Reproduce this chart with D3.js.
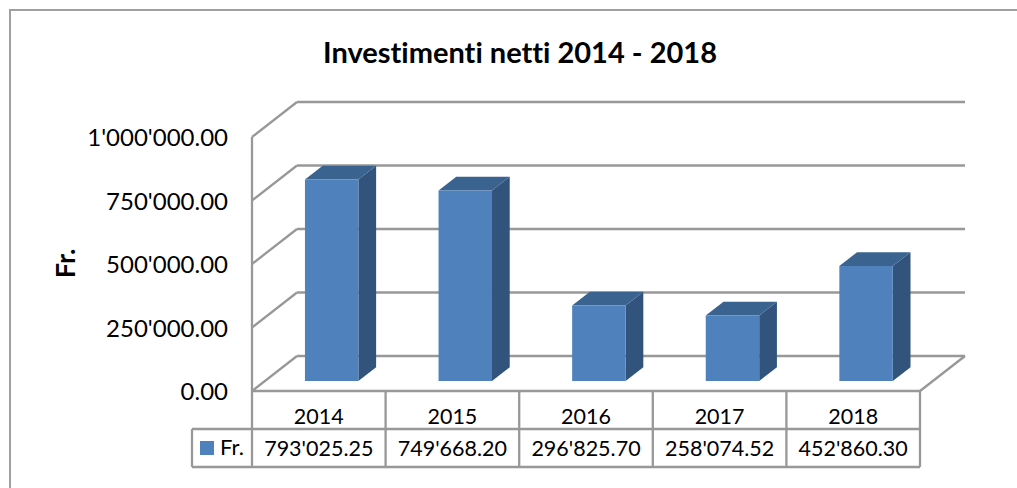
<!DOCTYPE html>
<html>
<head>
<meta charset="utf-8">
<script src="https://cdnjs.cloudflare.com/ajax/libs/d3/7.8.5/d3.min.js"></script>
<style>
    html, body { margin: 0; padding: 0; background: #fff; }
    svg { display: block; }
    text { font-family: Lato, "Noto Sans", sans-serif; fill: #000; font-variant-ligatures: none; }
</style>
</head>
<body>
<div id="chart"></div>
<script>
// Data
var years = ["2014", "2015", "2016", "2017", "2018"];
var values = [793025.25, 749668.20, 296825.70, 258074.52, 452860.30];
var yTicks = [0, 250000, 500000, 750000, 1000000];
var seriesName = "Fr.";
var chartTitle = "Investimenti netti 2014 - 2018";

var width = 1017, height = 488;
var lineColor = "#989898";

// plot box (front plane) and how far the 3D depth shifts things
var plot = {left: 252, right: 920, top: 137, bottom: 391};
var depth = {dx: 45, dy: -35};
var barDepth = {front: 0.286, back: 0.68};
var table = {left: 192, row1: 429, row2: 467};

var svg = d3.select("#chart")
    .append("svg")
    .attr("width", width)
    .attr("height", height);

var x = d3.scaleBand()
    .domain(years)
    .range([plot.left, plot.right])
    .paddingInner(0.6)
    .paddingOuter(0.3);

var y = d3.scaleLinear()
    .domain([0, 1000000])
    .range([plot.bottom, plot.top]);

var locale = d3.formatLocale({decimal: ".", thousands: "'", grouping: [3], currency: ["", ""]});
var fmt = locale.format(",.2f");

// Point in the 3D box: px on the front plane, value, depth 0..1
function pt(px, v, d) {
    return [px + depth.dx * d, y(v) + depth.dy * d];
}

function poly(points) {
    return "M" + points.join("L") + "Z";
}

function line(g, a, b) {
    g.append("line")
        .attr("x1", a[0]).attr("y1", a[1])
        .attr("x2", b[0]).attr("y2", b[1]);
}

// Chart frame
svg.append("path")
    .attr("d", "M10," + height + "V10H" + width)
    .attr("fill", "none")
    .attr("stroke", "#a0a0a0")
    .attr("stroke-width", 2);

// Title
svg.append("text")
    .attr("x", 520)
    .attr("y", 63)
    .attr("text-anchor", "middle")
    .attr("font-size", 29)
    .attr("font-weight", "bold")
    .text(chartTitle);

// Walls and gridlines
var grid = svg.append("g")
    .attr("stroke", lineColor)
    .attr("stroke-width", 2.3)
    .attr("fill", "none");

yTicks.forEach(function(t) {
    line(grid, pt(plot.left, t, 0), pt(plot.left, t, 1));
    line(grid, pt(plot.left, t, 1), pt(plot.right, t, 1));
});
line(grid, pt(plot.left, 0, 0), pt(plot.left, 1000000, 0));
line(grid, pt(plot.left, 0, 0), pt(plot.right, 0, 0));
line(grid, pt(plot.right, 0, 0), pt(plot.right, 0, 1));

// Bars: side, top, front
var bars = svg.selectAll(".bar")
    .data(years.map(function(d, i) { return {year: d, value: values[i]}; }))
    .enter()
    .append("g")
    .attr("class", "bar");

bars.append("path")
    .attr("fill", "#32547C")
    .attr("d", function(d) {
        var r = x(d.year) + x.bandwidth();
        return poly([pt(r, 0, barDepth.front), pt(r, 0, barDepth.back), pt(r, d.value, barDepth.back), pt(r, d.value, barDepth.front)]);
    });

bars.append("path")
    .attr("fill", "#3B6390")
    .attr("d", function(d) {
        var l = x(d.year), r = l + x.bandwidth();
        return poly([pt(l, d.value, barDepth.front), pt(l, d.value, barDepth.back), pt(r, d.value, barDepth.back), pt(r, d.value, barDepth.front)]);
    });

bars.append("path")
    .attr("fill", "#4F81BD")
    .attr("d", function(d) {
        var l = x(d.year), r = l + x.bandwidth();
        return poly([pt(l, 0, barDepth.front), pt(l, d.value, barDepth.front), pt(r, d.value, barDepth.front), pt(r, 0, barDepth.front)]);
    });

// Value axis, labels only
var yAxis = svg.append("g")
    .attr("transform", "translate(" + plot.left + ",1)")
    .call(d3.axisLeft(y).tickValues(yTicks).tickSize(0).tickPadding(24).tickFormat(fmt));
yAxis.select(".domain").remove();
yAxis.selectAll("text")
    .attr("font-size", 24)
    .style("font-family", "Lato, 'Noto Sans', sans-serif");

svg.append("text")
    .attr("transform", "translate(75,263.5) rotate(-90)")
    .attr("text-anchor", "middle")
    .attr("font-size", 27)
    .attr("font-weight", "bold")
    .text(seriesName);

// Data table under the plot
var tableLines = svg.append("g")
    .attr("stroke", lineColor)
    .attr("stroke-width", 2.3);

var bandStep = (plot.right - plot.left) / years.length;
d3.range(years.length + 1).forEach(function(i) {
    var px = plot.left + i * bandStep;
    line(tableLines, [px, plot.bottom], [px, table.row2]);
});
line(tableLines, [table.left, table.row1], [plot.right, table.row1]);
line(tableLines, [table.left, table.row2], [plot.right, table.row2]);
line(tableLines, [table.left, table.row1], [table.left, table.row2]);

years.forEach(function(yr, i) {
    var cx = x(yr) + x.bandwidth() / 2;
    svg.append("text")
        .attr("x", cx).attr("y", 424)
        .attr("text-anchor", "middle")
        .attr("font-size", 21.5)
        .text(yr);
    svg.append("text")
        .attr("x", cx).attr("y", 456)
        .attr("text-anchor", "middle")
        .attr("font-size", 21.5)
        .text(fmt(values[i]));
});

// Legend key in the table
svg.append("rect")
    .attr("x", 200).attr("y", 441)
    .attr("width", 14).attr("height", 14)
    .attr("fill", "#4F81BD");
svg.append("text")
    .attr("x", 220).attr("y", 455)
    .attr("font-size", 22)
    .text(seriesName);
</script>
</body>
</html>
